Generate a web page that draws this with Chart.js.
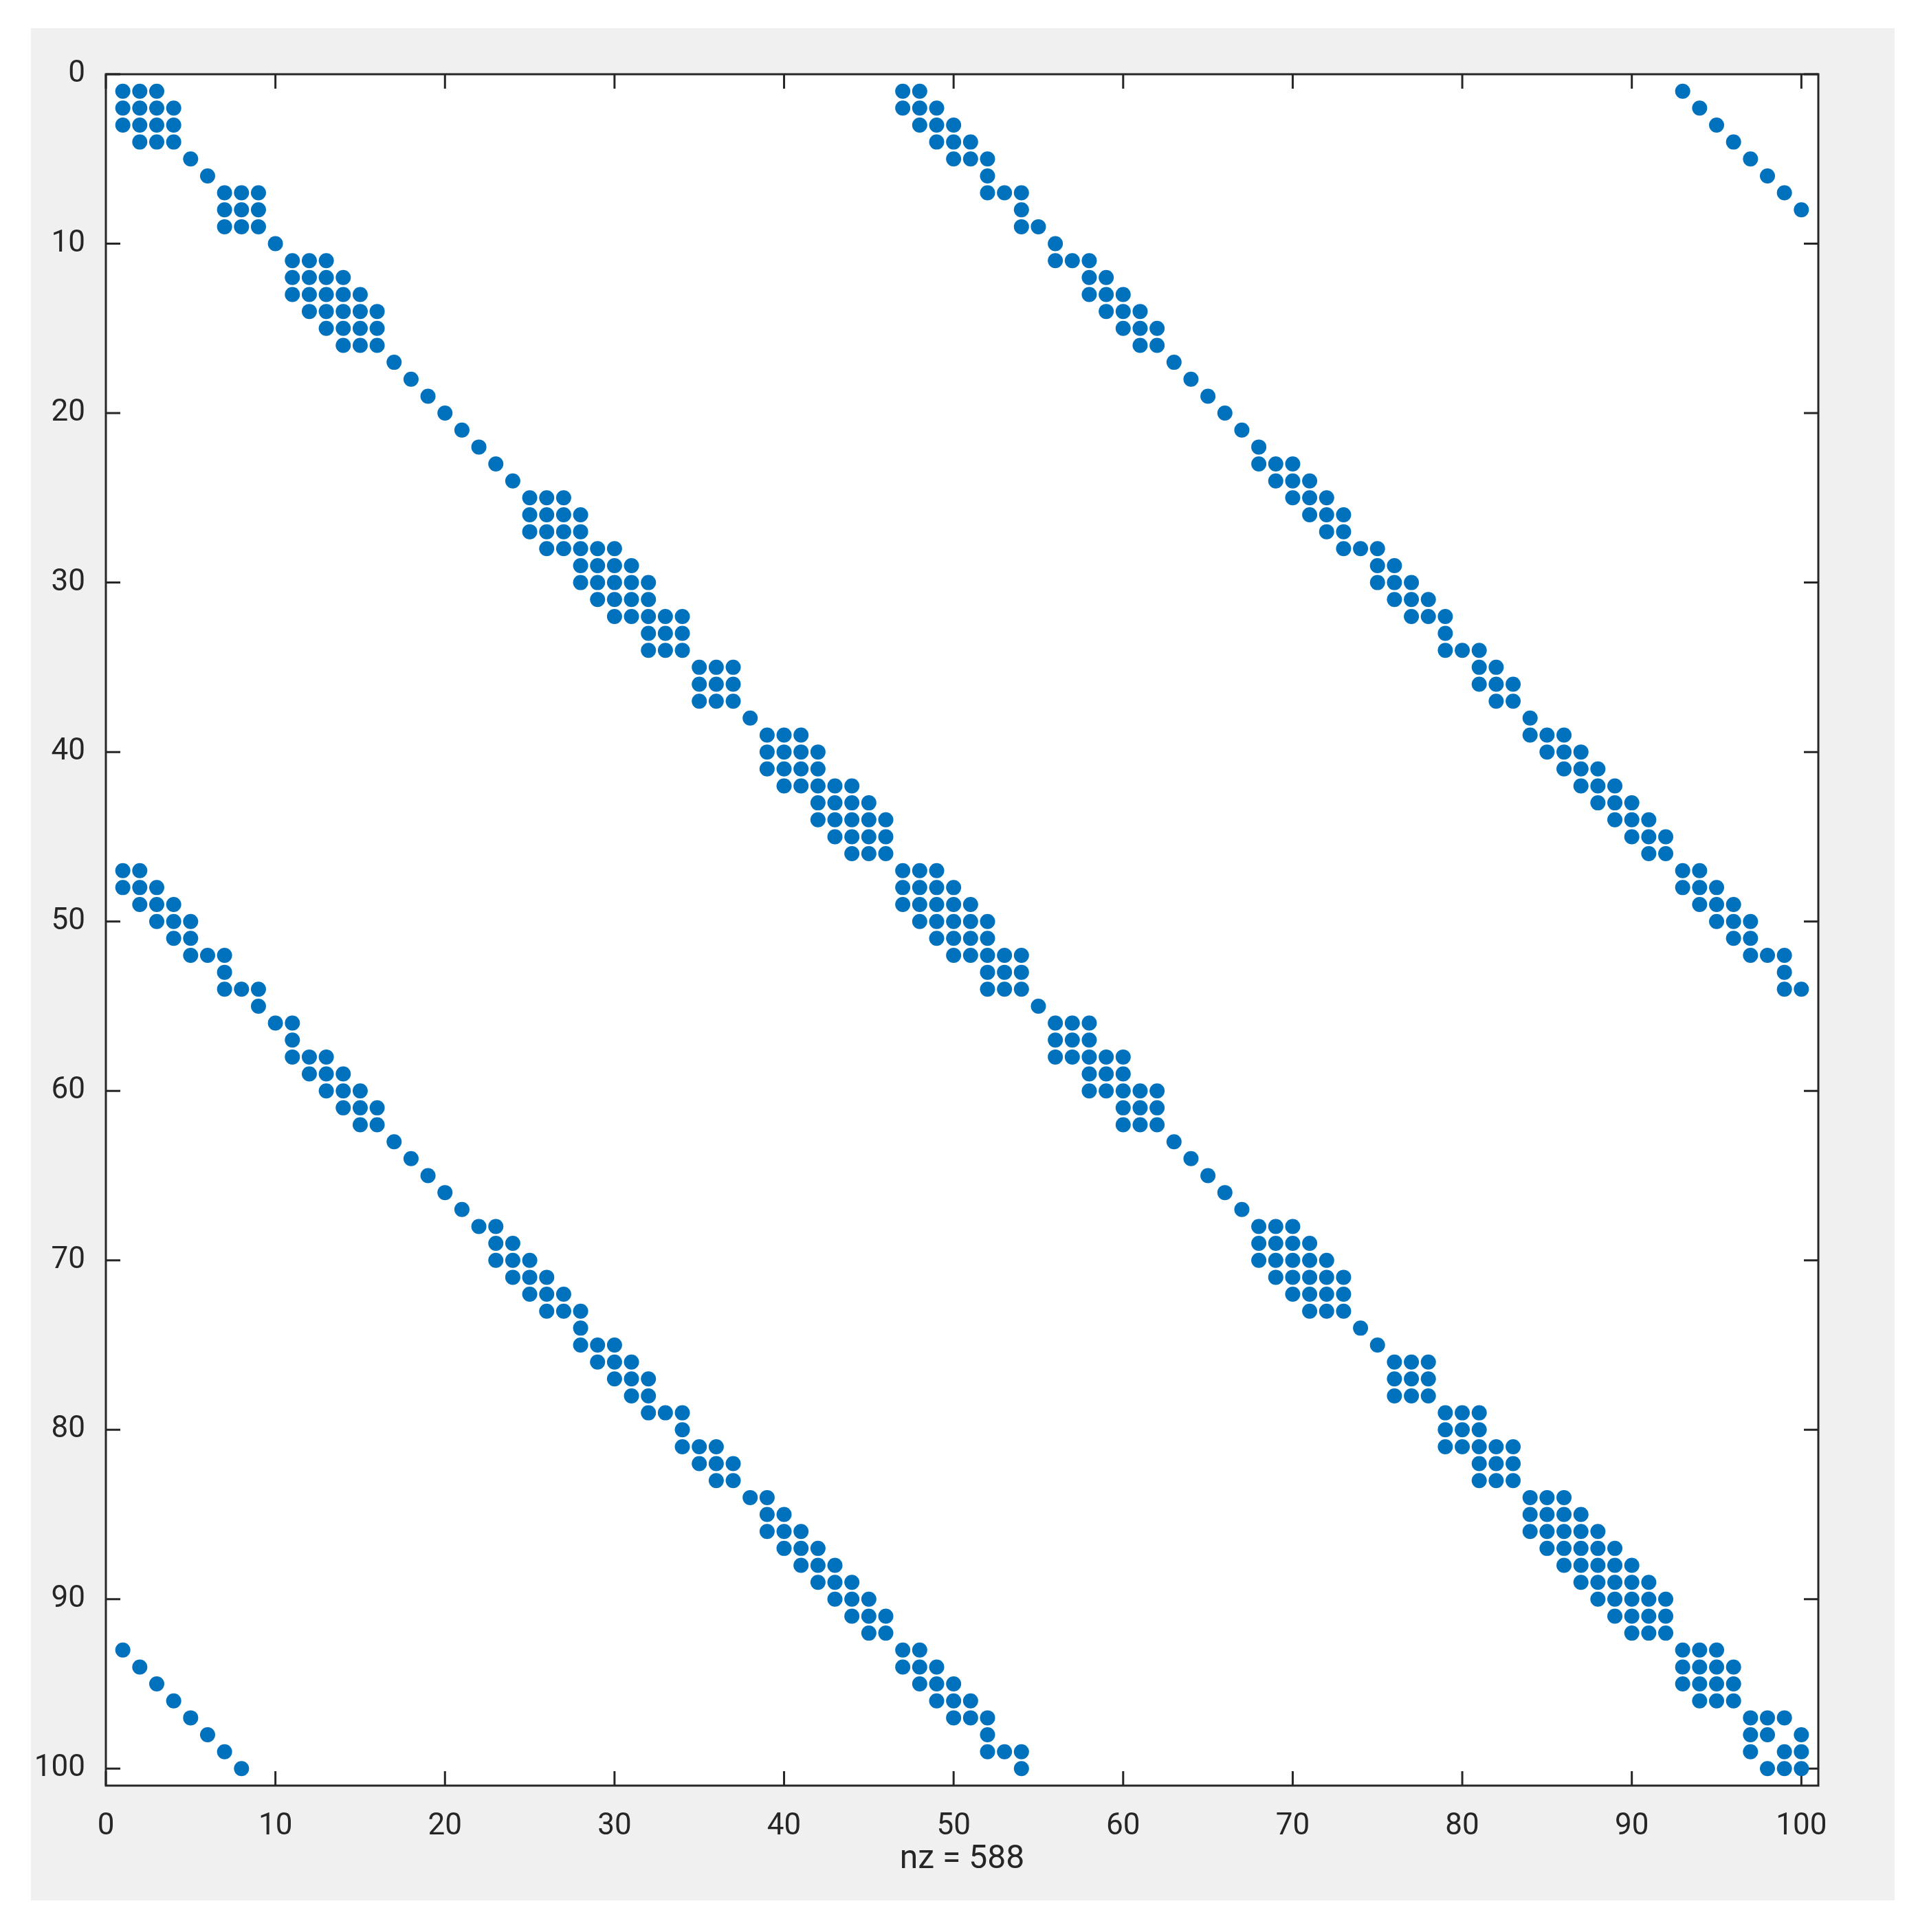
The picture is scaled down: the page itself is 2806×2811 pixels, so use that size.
<!DOCTYPE html>
<html lang="en">
<head>
<meta charset="UTF-8">
<title>Sparsity pattern</title>
<script src="https://cdn.jsdelivr.net/npm/chart.js@4.4.1/dist/chart.umd.min.js"></script>
<style>
  html, body { margin: 0; padding: 0; background: #fff; }
  #chart { display: block; }
</style>
</head>
<body>
<canvas id="chart" width="2806" height="2811"></canvas>
<script>
// nonzero columns of each row in the diagonal blocks (row = index + 1)
const diagCols = [
  [1,2,3], [1,2,3,4], [1,2,3,4], [2,3,4], [5], [6], [7,8,9], [7,8,9], [7,8,9], [10],
  [11,12,13], [11,12,13,14], [11,12,13,14,15], [12,13,14,15,16], [13,14,15,16], [14,15,16],
  [17], [18], [19], [20], [21], [22], [23], [24],
  [25,26,27], [25,26,27,28], [25,26,27,28], [26,27,28,29,30], [28,29,30,31],
  [28,29,30,31,32], [29,30,31,32], [30,31,32,33,34], [32,33,34], [32,33,34],
  [35,36,37], [35,36,37], [35,36,37], [38],
  [39,40,41], [39,40,41,42], [39,40,41,42], [40,41,42,43,44], [42,43,44,45],
  [42,43,44,45,46], [43,44,45,46], [44,45,46],
  [47,48,49], [47,48,49,50], [47,48,49,50,51], [48,49,50,51,52], [49,50,51,52],
  [50,51,52,53,54], [52,53,54], [52,53,54], [55],
  [56,57,58], [56,57,58], [56,57,58,59,60], [58,59,60], [58,59,60,61,62], [60,61,62], [60,61,62],
  [63], [64], [65], [66], [67],
  [68,69,70], [68,69,70,71], [68,69,70,71,72], [69,70,71,72,73], [70,71,72,73], [71,72,73],
  [74], [75], [76,77,78], [76,77,78], [76,77,78],
  [79,80,81], [79,80,81], [79,80,81,82,83], [81,82,83], [81,82,83],
  [84,85,86], [84,85,86,87], [84,85,86,87,88], [85,86,87,88,89], [86,87,88,89,90],
  [87,88,89,90,91], [88,89,90,91,92], [89,90,91,92], [90,91,92],
  [93,94,95], [93,94,95,96], [93,94,95,96], [94,95,96],
  [97,98,99], [97,98,100], [97,99,100], [98,99,100]
];

// band above the diagonal, rows 1..54
const upperBandCols = [
  [47,48], [47,48,49], [48,49,50], [49,50,51], [50,51,52], [52], [52,53,54], [54], [54,55], [56],
  [56,57,58], [58,59], [58,59,60], [59,60,61], [60,61,62], [61,62],
  [63], [64], [65], [66], [67], [68],
  [68,69,70], [69,70,71], [70,71,72], [71,72,73], [72,73], [73,74,75], [75,76], [75,76,77],
  [76,77,78], [77,78,79], [79], [79,80,81], [81,82], [81,82,83], [82,83], [84],
  [84,85,86], [85,86,87], [86,87,88], [87,88,89], [88,89,90], [89,90,91], [90,91,92], [91,92],
  [93,94], [93,94,95], [94,95,96], [95,96,97], [96,97], [97,98,99], [99], [99,100]
];
const upperBandFirstRow = 1;

// band below the diagonal, rows 47..100
const lowerBandCols = [
  [1,2], [1,2,3], [2,3,4], [3,4,5], [4,5], [5,6,7], [7], [7,8,9], [9], [10,11],
  [11], [11,12,13], [12,13,14], [13,14,15], [14,15,16], [15,16],
  [17], [18], [19], [20], [21],
  [22,23], [23,24], [23,24,25], [24,25,26], [25,26,27], [26,27,28], [28], [28,29,30],
  [29,30,31], [30,31,32], [31,32], [32,33,34], [34], [34,35,36], [35,36,37], [36,37],
  [38,39], [39,40], [39,40,41], [40,41,42], [41,42,43], [42,43,44], [43,44,45], [44,45,46], [45,46],
  [47,48], [47,48,49], [48,49,50], [49,50,51], [50,51,52], [52], [52,53,54], [54]
];
const lowerBandFirstRow = 47;

// single entries in the two far corners
const cornerUpperCols = [[93], [94], [95], [96], [97], [98], [99], [100]];
const cornerUpperFirstRow = 1;
const cornerLowerCols = [[1], [2], [3], [4], [5], [6], [7], [8]];
const cornerLowerFirstRow = 93;

const tickValues = [0, 10, 20, 30, 40, 50, 60, 70, 80, 90, 100];
const tickLabels = ['0', '10', '20', '30', '40', '50', '60', '70', '80', '90', '100'];
const axisMin = 0;
const axisMax = 101;
const nzText = 'nz = 588';

const points = [];
function addRows(list, firstRow) {
  list.forEach((cols, i) => {
    cols.forEach(c => points.push({ x: c, y: firstRow + i }));
  });
}
addRows(diagCols, 1);
addRows(upperBandCols, upperBandFirstRow);
addRows(lowerBandCols, lowerBandFirstRow);
addRows(cornerUpperCols, cornerUpperFirstRow);
addRows(cornerLowerCols, cornerLowerFirstRow);

const ink = '#262626';

// grey figure panel, white axes, box and inward ticks like matlab
const framePlugin = {
  id: 'frame',
  beforeDraw(chart) {
    const { ctx, chartArea: a, width, height } = chart;
    ctx.save();
    ctx.fillStyle = '#ffffff';
    ctx.fillRect(0, 0, width, height);
    ctx.fillStyle = '#f0f0f0';
    ctx.fillRect(45, 41, 2711, 2724);
    ctx.fillStyle = '#ffffff';
    ctx.fillRect(a.left, a.top, a.right - a.left, a.bottom - a.top);
    ctx.restore();
  },
  beforeDatasetsDraw(chart) {
    const { ctx, chartArea: a, scales } = chart;
    const tickLen = 21;
    ctx.save();
    ctx.strokeStyle = ink;
    ctx.lineWidth = 3;
    ctx.beginPath();
    scales.x.ticks.forEach(t => {
      const px = scales.x.getPixelForValue(t.value);
      ctx.moveTo(px, a.bottom); ctx.lineTo(px, a.bottom - tickLen);
      ctx.moveTo(px, a.top); ctx.lineTo(px, a.top + tickLen);
    });
    scales.y.ticks.forEach(t => {
      const py = scales.y.getPixelForValue(t.value);
      ctx.moveTo(a.left, py); ctx.lineTo(a.left + tickLen, py);
      ctx.moveTo(a.right, py); ctx.lineTo(a.right - tickLen, py);
    });
    ctx.stroke();
    ctx.strokeRect(a.left, a.top, a.right - a.left, a.bottom - a.top);
    ctx.restore();
  }
};

Chart.defaults.font.family = 'Roboto';

const ctx = document.getElementById('chart').getContext('2d');
new Chart(ctx, {
  type: 'scatter',
  data: {
    datasets: [{
      data: points,
      pointRadius: 11,
      pointHoverRadius: 11,
      pointBackgroundColor: '#0072BD',
      pointBorderWidth: 0,
      showLine: false
    }]
  },
  options: {
    responsive: false,
    animation: false,
    events: [],
    layout: { padding: { top: 108, right: 161, bottom: 0, left: 0 } },
    plugins: {
      legend: { display: false },
      tooltip: { enabled: false }
    },
    scales: {
      x: {
        type: 'linear',
        position: 'bottom',
        min: axisMin,
        max: axisMax,
        afterBuildTicks: s => { s.ticks = tickValues.map(v => ({ value: v })); },
        afterFit: s => { s.height = 213; },
        grid: { display: false },
        border: { display: false },
        ticks: {
          padding: 26,
          color: ink,
          autoSkip: false,
          maxRotation: 0,
          font: { size: 44 },
          callback: v => tickLabels[tickValues.indexOf(v)]
        },
        title: {
          display: true,
          text: nzText,
          color: ink,
          font: { size: 48 },
          padding: { top: 0, bottom: 76 }
        }
      },
      y: {
        type: 'linear',
        position: 'left',
        reverse: true,
        min: axisMin,
        max: axisMax,
        afterBuildTicks: s => { s.ticks = tickValues.map(v => ({ value: v })); },
        afterFit: s => { s.width = 154; },
        grid: { display: false },
        border: { display: false },
        ticks: {
          padding: 22,
          color: ink,
          autoSkip: false,
          font: { size: 44 },
          callback: v => tickLabels[tickValues.indexOf(v)]
        }
      }
    }
  },
  plugins: [framePlugin]
});
</script>
</body>
</html>
